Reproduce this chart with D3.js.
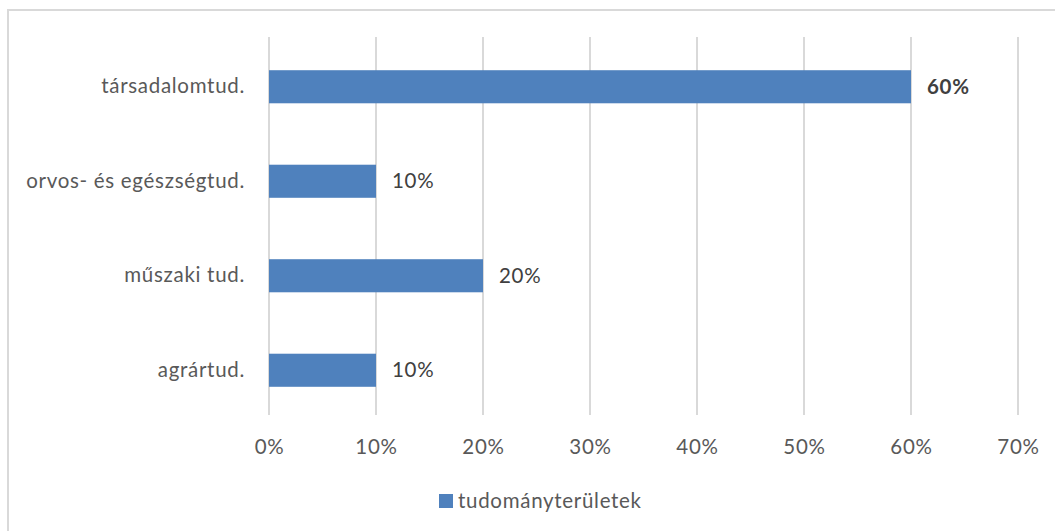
<!DOCTYPE html>
<html><head><meta charset="utf-8">
<script src="https://cdn.jsdelivr.net/npm/d3@7"></script>
<style>body{margin:0;background:#fff}svg{display:block}text{font-family:Lato,"Open Sans",sans-serif;letter-spacing:0.7px}</style>
</head><body><svg id="c" width="1055" height="531"></svg>
<script>
const categories = ["társadalomtud.", "orvos- és egészségtud.", "műszaki tud.", "agrártud."];
const values = [0.60, 0.10, 0.20, 0.10];
const xTicks = [0, 0.1, 0.2, 0.3, 0.4, 0.5, 0.6, 0.7];
const seriesName = "tudományterületek";

const FS = 20.5;
const svg = d3.select("#c");
svg.append("rect").attr("x",8).attr("y",10).attr("width",1060).attr("height",540)
  .attr("fill","#fff").attr("stroke","#d9d9d9").attr("stroke-width",2);

const x = d3.scaleLinear().domain([0,0.7]).range([269,1018]);
const y = d3.scaleBand().domain(categories).range([39.5,417.5]).paddingInner(0.65).paddingOuter(0.325);

svg.append("g").selectAll("line").data(xTicks).join("line")
  .attr("x1",d=>x(d)).attr("x2",d=>x(d)).attr("y1",37).attr("y2",415)
  .attr("stroke","#d9d9d9").attr("stroke-width",2);

const xa = d3.axisBottom(x).tickValues(xTicks).tickFormat(d3.format(".0%")).tickSize(0).tickPadding(0);
const gx = svg.append("g").attr("transform","translate(0,447)").call(xa);
gx.select(".domain").remove();
gx.selectAll("text").attr("font-size",FS).attr("fill","#595959").attr("dy","0.35em").style("font-family","Lato,sans-serif");

const ya = d3.axisLeft(y).tickSize(0).tickPadding(24);
const gy = svg.append("g").attr("transform","translate(269,0)").call(ya);
gy.select(".domain").remove();
gy.selectAll("text").attr("font-size",FS).attr("fill","#595959").style("font-family","Lato,sans-serif");

svg.append("g").selectAll("rect").data(values).join("rect")
  .attr("x",x(0)).attr("y",(d,i)=>y(categories[i]))
  .attr("width",d=>x(d)-x(0)).attr("height",y.bandwidth()).attr("fill","#4f81bd");

svg.append("g").selectAll("text").data(values).join("text")
  .attr("x",d=>x(d)+16).attr("y",(d,i)=>y(categories[i])+y.bandwidth()/2)
  .attr("dy","0.35em").attr("font-size",FS).attr("fill","#404040")
  .attr("font-weight",(d,i)=>i===0?"bold":"normal")
  .text(d=>d3.format(".0%")(d));

const lg = svg.append("g");
lg.append("rect").attr("x",439).attr("y",494).attr("width",14).attr("height",14).attr("fill","#4f81bd");
lg.append("text").attr("x",458).attr("y",501).attr("dy","0.35em").attr("font-size",FS).attr("fill","#595959").text(seriesName);
</script></body></html>
